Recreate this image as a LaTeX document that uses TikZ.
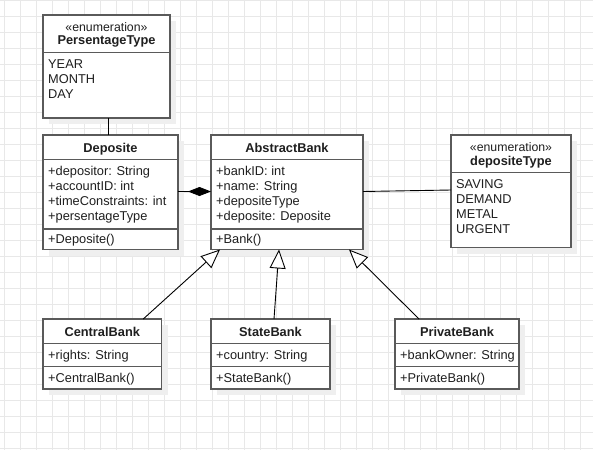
\documentclass[tikz,border=0pt]{standalone}
\usepackage{fontspec}
\setmainfont{Liberation Sans}
\usetikzlibrary{arrows.meta}
\definecolor{gridc}{HTML}{E8E8E8}
\definecolor{boxc}{HTML}{5A5A5A}
\definecolor{txtc}{HTML}{1F1F1F}
\definecolor{shadc}{HTML}{EFEFEF}
\tikzset{
  gridline/.style={draw=gridc, line width=0.7pt},
  cls/.style={draw=boxc, fill=white, line width=1.5pt, inner sep=0pt, outer sep=0pt},
  divline/.style={draw=boxc, line width=1.5pt},
  shadowfill/.style={fill=shadc},
  txt/.style={anchor=base west, inner sep=0pt, text=txtc, font=\fontsize{12.8}{15}\selectfont},
  ttl/.style={anchor=base, inner sep=0pt, text=txtc, font=\fontsize{12.8}{15}\selectfont\bfseries},
  stereo/.style={anchor=base, inner sep=0pt, text=txtc, font=\fontsize{12.3}{15}\selectfont},
  conn/.style={draw=black, line width=0.9pt},
  compos/.style={conn, -{Diamond[length=23pt,width=9pt,fill=black]}},
  inherit/.style={conn, -{Triangle[length=19pt,width=16pt,fill=white]}},
}
\newcommand\umlcls[5]{%
  \fill[shadowfill] (#2+6,#3+6) rectangle (#4+6,#5+6);
  \node[cls, minimum width={#4pt-#2pt}, minimum height={#5pt-#3pt}] (#1) at ({(#2+#4)/2},{(#3+#5)/2}) {};
}
\newcommand\umldiv[2]{\draw[divline] (#1.west |- 0,#2) -- (#1.east |- 0,#2);}
\begin{document}
\begin{tikzpicture}[x=1pt,y=-1pt]
\useasboundingbox (0,0) rectangle (593,450);
\fill[white] (0,0) rectangle (593,450);
\foreach \x in {4,20,...,596} \draw[gridline] (\x,0) -- (\x,450);
\foreach \y in {0,16,...,448} \draw[gridline] (0,\y) -- (593,\y);

% PersentageType
\umlcls{pt}{43}{15}{170}{118}
\umldiv{pt}{52.5}
\node[stereo] (ptst) at (106.5,31) {«enumeration»};
\node[ttl] (ptti) at (106.5,44.5) {PersentageType};
\node[txt] (pt1) at (48,68) {YEAR};
\node[txt] (pt2) at (48,83) {MONTH};
\node[txt] (pt3) at (48,98) {DAY};

% Deposite
\umlcls{dep}{43}{135}{178}{249.5}
\umldiv{dep}{159.5}
\umldiv{dep}{229}
\node[ttl] (depti) at (110.5,152) {Deposite};
\node[txt] (dep1) at (48,175) {+depositor: String};
\node[txt] (dep2) at (48,190) {+accountID: int};
\node[txt] (dep3) at (48,205) {+timeConstraints: int};
\node[txt] (dep4) at (48,220) {+persentageType};
\node[txt] (dep5) at (48,243) {+Deposite()};

% AbstractBank
\umlcls{ab}{211}{135}{363}{249.5}
\umldiv{ab}{159.5}
\umldiv{ab}{229}
\node[ttl] (abti) at (287,152) {AbstractBank};
\node[txt] (ab1) at (216,175) {+bankID: int};
\node[txt] (ab2) at (216,190) {+name: String};
\node[txt] (ab3) at (216,205) {+depositeType};
\node[txt] (ab4) at (216,220) {+deposite: Deposite};
\node[txt] (ab5) at (216,243) {+Bank()};

% depositeType
\umlcls{dt}{451}{135}{571}{247.5}
\umldiv{dt}{172.5}
\node[stereo] (dtst) at (511,151) {«enumeration»};
\node[ttl] (dtti) at (511,165) {depositeType};
\node[txt] (dt1) at (456,188) {SAVING};
\node[txt] (dt2) at (456,203) {DEMAND};
\node[txt] (dt3) at (456,218) {METAL};
\node[txt] (dt4) at (456,233) {URGENT};

% CentralBank
\umlcls{cb}{43}{319}{161.5}{389}
\umldiv{cb}{343.5}
\umldiv{cb}{366.5}
\node[ttl] (cbti) at (102.25,336.5) {CentralBank};
\node[txt] (cb1) at (48,359) {+rights: String};
\node[txt] (cb2) at (48,382.5) {+CentralBank()};

% StateBank
\umlcls{sb}{211}{319}{330}{389}
\umldiv{sb}{343.5}
\umldiv{sb}{366.5}
\node[ttl] (sbti) at (270.5,336.5) {StateBank};
\node[txt] (sb1) at (216,359) {+country: String};
\node[txt] (sb2) at (216,382.5) {+StateBank()};

% PrivateBank
\umlcls{pb}{395}{319}{519}{389}
\umldiv{pb}{343.5}
\umldiv{pb}{366.5}
\node[ttl] (pbti) at (457,336.5) {PrivateBank};
\node[txt] (pb1) at (400,359) {+bankOwner: String};
\node[txt] (pb2) at (400,382.5) {+PrivateBank()};

% connectors
\draw[conn] ([xshift=1.5pt]pt.south) -- ([xshift=-2.5pt]dep.north);
\draw[compos] (dep.east |- 0,191.5) -- (ab.west |- 0,191.5);
\draw[conn] (ab.east |- 0,191.5) -- (dt.west |- 0,190);
\draw[inherit] ([xshift=41pt]cb.north) -- ([xshift=-67pt]ab.south);
\draw[inherit] ([xshift=3.5pt]sb.north) -- ([xshift=-8pt]ab.south);
\draw[inherit] ([xshift=-38pt]pb.north) -- ([xshift=62pt]ab.south);
\end{tikzpicture}
\end{document}
